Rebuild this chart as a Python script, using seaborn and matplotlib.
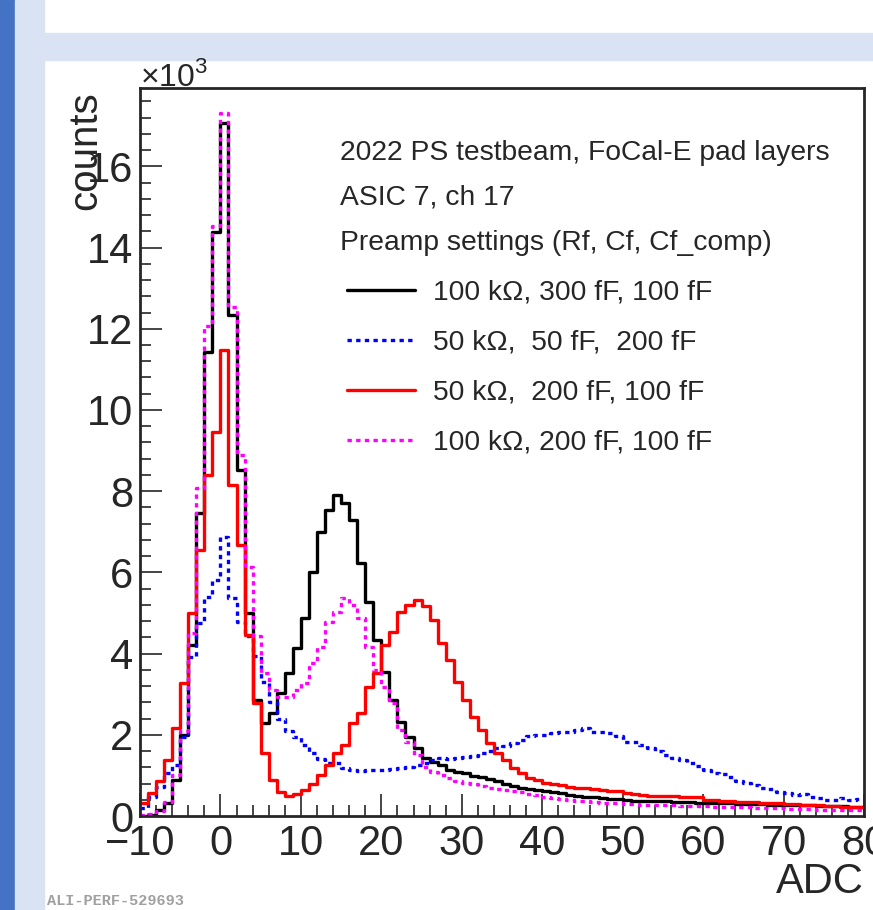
import numpy as np
import pandas as pd
import matplotlib
matplotlib.use('Agg')
import matplotlib.pyplot as plt
import seaborn as sns
from matplotlib.patches import Rectangle
from matplotlib.ticker import MultipleLocator

# ADC binning: 1-count bins from -10 to 80
adc_edges = list(range(-10, 81))
adc_centers = np.arange(-10, 80) + 0.5

# counts per bin (x10^3)
black_100k_300f = [0.0, 0.03, 0.15, 0.31, 0.89, 2.0, 4.2, 7.46, 11.44, 14.39,
                   17.06, 12.34, 8.52, 4.99, 2.86, 2.28, 2.53, 3.02, 3.51, 4.13,
                   4.87, 6.02, 7.0, 7.54, 7.91, 7.70, 7.29, 6.22, 5.28, 4.33,
                   3.55, 2.86, 2.32, 1.95, 1.67, 1.42, 1.34, 1.26, 1.13, 1.09,
                   1.05, 0.99, 0.95, 0.91, 0.87, 0.80, 0.74, 0.70, 0.66, 0.64,
                   0.62, 0.60, 0.56, 0.52, 0.49, 0.48, 0.46, 0.44, 0.43, 0.41,
                   0.40, 0.38, 0.37, 0.36, 0.36, 0.36, 0.35, 0.34, 0.34, 0.33,
                   0.33, 0.32, 0.31, 0.31, 0.30, 0.30, 0.29, 0.29, 0.28, 0.28,
                   0.27, 0.27, 0.26, 0.26, 0.25, 0.25, 0.24, 0.24, 0.23, 0.23]
blue_50k_50f = [0.2, 0.48, 0.72, 1.05, 1.26, 1.95, 3.92, 4.76, 5.4, 5.81,
                6.88, 5.37, 4.79, 4.43, 3.95, 3.3, 2.8, 2.4, 2.1, 1.95,
                1.75, 1.55, 1.4, 1.3, 1.3, 1.17, 1.13, 1.12, 1.13, 1.13,
                1.13, 1.15, 1.17, 1.21, 1.26, 1.30, 1.38, 1.42, 1.40, 1.44,
                1.45, 1.48, 1.55, 1.60, 1.68, 1.73, 1.79, 1.87, 1.96, 2.0,
                2.0, 2.04, 2.08, 2.08, 2.12, 2.16, 2.08, 2.08, 2.04, 1.96,
                1.83, 1.83, 1.75, 1.67, 1.59, 1.50, 1.42, 1.38, 1.30, 1.22,
                1.13, 1.07, 1.03, 0.95, 0.85, 0.81, 0.76, 0.70, 0.66, 0.60,
                0.56, 0.52, 0.54, 0.48, 0.44, 0.40, 0.40, 0.44, 0.40, 0.42]
red_50k_200f = [0.31, 0.56, 0.85, 1.38, 2.16, 3.27, 4.99, 6.55, 8.4, 9.45,
                11.48, 8.15, 6.67, 4.46, 2.78, 1.54, 0.89, 0.60, 0.50, 0.55,
                0.65, 0.80, 1.0, 1.26, 1.54, 1.75, 2.28, 2.53, 3.18, 3.51,
                4.21, 4.54, 5.03, 5.2, 5.32, 5.16, 4.83, 4.25, 3.84, 3.31,
                2.86, 2.45, 2.12, 1.79, 1.54, 1.38, 1.17, 1.05, 0.93, 0.89,
                0.82, 0.78, 0.76, 0.72, 0.70, 0.68, 0.66, 0.64, 0.62, 0.61,
                0.57, 0.54, 0.51, 0.49, 0.50, 0.50, 0.49, 0.48, 0.48, 0.46,
                0.40, 0.39, 0.37, 0.37, 0.35, 0.35, 0.34, 0.33, 0.32, 0.31,
                0.30, 0.30, 0.28, 0.27, 0.26, 0.25, 0.24, 0.23, 0.22, 0.21]
magenta_100k_200f = [0.02, 0.05, 0.12, 0.35, 1.0, 2.1, 4.5, 8.07, 12.07, 14.54,
                     17.31, 12.54, 8.89, 6.14, 4.43, 3.51, 3.10, 2.94, 2.94, 3.10,
                     3.27, 3.76, 4.17, 4.79, 5.03, 5.36, 5.20, 4.87, 4.17, 3.6,
                     3.18, 2.78, 2.12, 1.83, 1.50, 1.21, 1.08, 1.0, 0.93, 0.87,
                     0.82, 0.78, 0.74, 0.70, 0.67, 0.64, 0.61, 0.58, 0.55, 0.52,
                     0.47, 0.45, 0.42, 0.40, 0.38, 0.36, 0.35, 0.33, 0.32, 0.31,
                     0.30, 0.29, 0.28, 0.27, 0.27, 0.26, 0.26, 0.25, 0.25, 0.24,
                     0.24, 0.23, 0.22, 0.22, 0.21, 0.21, 0.20, 0.20, 0.19, 0.19,
                     0.18, 0.18, 0.17, 0.17, 0.16, 0.16, 0.15, 0.15, 0.15, 0.14]

settings = ['100 k\u03a9, 300 fF, 100 fF',
            '50 k\u03a9,  50 fF,  200 fF',
            '50 k\u03a9,  200 fF, 100 fF',
            '100 k\u03a9, 200 fF, 100 fF']
header_lines = ['2022 PS testbeam, FoCal-E pad layers',
                'ASIC 7, ch 17',
                'Preamp settings (Rf, Cf, Cf_comp)']

sns.set_style('ticks')
plt.rcParams['font.family'] = ['Liberation Sans', 'DejaVu Sans']
plt.rcParams['mathtext.fontset'] = 'custom'
plt.rcParams['mathtext.rm'] = 'Liberation Sans'

fig = plt.figure(figsize=(8.73, 9.10), dpi=100)

# slide-like background around the plot
fig.patches.append(Rectangle((0, 0), 15 / 873, 1, transform=fig.transFigure, color='#4472c4', zorder=-10))
fig.patches.append(Rectangle((15 / 873, 0), 29 / 873, 1, transform=fig.transFigure, color='#dae3f3', zorder=-10))
fig.patches.append(Rectangle((44 / 873, 1 - 60 / 910), 1, 27 / 910, transform=fig.transFigure, color='#dae3f3', zorder=-10))

ax = fig.add_axes([140 / 873, 94 / 910, 724 / 873, 728 / 910])

series = [(black_100k_300f, 'black', '-'),
          (blue_50k_50f, '#0000ff', (0, (1.3, 1.3))),
          (red_50k_200f, '#ff0000', '-'),
          (magenta_100k_200f, '#ff00ff', (0, (1.3, 1.3)))]

for (vals, color, ls), name in zip(series, settings):
    hist_df = pd.DataFrame({'adc': adc_centers, 'counts': vals})
    sns.histplot(data=hist_df, x='adc', weights='counts', bins=adc_edges, element='step',
                 fill=False, color=color, linestyle=ls, linewidth=2.4,
                 label=name, ax=ax)

ax.set_xlim(-10, 80)
ax.set_ylim(0, 17.93)
ax.xaxis.set_major_locator(MultipleLocator(10))
ax.xaxis.set_minor_locator(MultipleLocator(2))
ax.yaxis.set_major_locator(MultipleLocator(2))
ax.yaxis.set_minor_locator(MultipleLocator(0.4))
ax.yaxis.set_major_formatter(matplotlib.ticker.FuncFormatter(lambda v, p: f'{v:g}'))
ax.tick_params(which='major', direction='in', length=16, width=1.2, labelsize=30, pad=5)
ax.tick_params(which='minor', direction='in', length=8, width=1.2)
ax.tick_params(axis='x', which='major', pad=6)
for sp in ax.spines.values():
    sp.set_linewidth(2)

ax.set_xlabel('ADC', fontsize=30, loc='right')
ax.xaxis.set_label_coords(1.0, -0.063)
ax.set_ylabel('counts', fontsize=29, loc='top')
ax.yaxis.set_label_coords(-0.05, 0.995)
ax.text(0.0, 1.003, '\u00d710$^{3}$', transform=ax.transAxes, fontsize=23,
        ha='left', va='baseline', zorder=5)

for i, line in enumerate(header_lines):
    ax.text(0.276, 0.911 - i * 0.0618, line, transform=ax.transAxes,
            fontsize=20.3, ha='left', va='center')

ax.legend(loc='upper left', bbox_to_anchor=(0.286, 0.7365), frameon=False,
          fontsize=20.3, handlelength=2.41, handletextpad=0.64, labelspacing=0.85,
          borderpad=0, borderaxespad=0)

fig.text(47 / 873, 2 / 910, 'ALI-PERF-529693', fontsize=11, color='#a0a0a0',
         family=['Liberation Mono', 'DejaVu Sans Mono'], weight='bold', ha='left', va='bottom')

fig.savefig('out.png', dpi=100)
